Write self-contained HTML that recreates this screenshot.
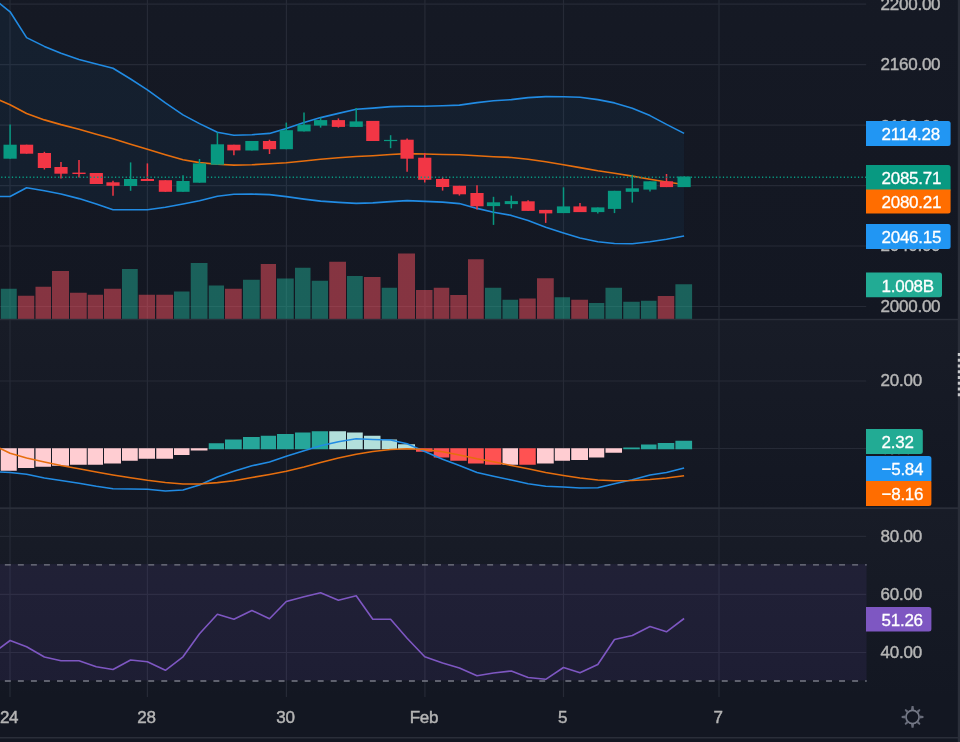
<!DOCTYPE html><html><head><meta charset="utf-8"><title>chart</title><style>
html,body{margin:0;padding:0;background:#131722;}body{width:960px;height:742px;overflow:hidden;position:relative;font-family:"Liberation Sans",sans-serif;}
svg{position:absolute;left:0;top:0;display:block}
text{filter:grayscale(1)}.t{font-family:"Liberation Sans",sans-serif;font-size:17px;letter-spacing:-0.25px;fill:#b2b5be;stroke:#b2b5be;stroke-width:0.45px}
.w{fill:#fff;stroke:#fff;stroke-width:0.3px}
</style></head><body>
<svg width="960" height="742" viewBox="0 0 960 742">
<defs><linearGradient id="g1" gradientUnits="userSpaceOnUse" x1="0" y1="-414" x2="0" y2="319"><stop offset="0" stop-color="#181c27"/><stop offset="1" stop-color="#131722"/></linearGradient><linearGradient id="g2" gradientUnits="userSpaceOnUse" x1="0" y1="320" x2="0" y2="508"><stop offset="0" stop-color="#181c27"/><stop offset="1" stop-color="#131722"/></linearGradient><linearGradient id="g3" gradientUnits="userSpaceOnUse" x1="0" y1="508" x2="0" y2="697"><stop offset="0" stop-color="#181c27"/><stop offset="1" stop-color="#131722"/></linearGradient></defs>
<rect width="960" height="742" fill="#131722"/>
<rect x="0" y="0" width="960" height="319.5" fill="url(#g1)"/>
<rect x="0" y="319.5" width="960" height="188.7" fill="url(#g2)"/>
<rect x="0" y="508.2" width="960" height="188.8" fill="url(#g3)"/>
<g stroke="#262a36" stroke-width="1.2"><line x1="0" y1="4.20" x2="866.2" y2="4.20"/><line x1="0" y1="64.60" x2="866.2" y2="64.60"/><line x1="0" y1="125.10" x2="866.2" y2="125.10"/><line x1="0" y1="185.55" x2="866.2" y2="185.55"/><line x1="0" y1="246.00" x2="866.2" y2="246.00"/><line x1="0" y1="306.50" x2="866.2" y2="306.50"/><line x1="0" y1="381.00" x2="866.2" y2="381.00"/><line x1="0" y1="448.50" x2="866.2" y2="448.50"/><line x1="0" y1="536.40" x2="866.2" y2="536.40"/><line x1="0" y1="594.30" x2="866.2" y2="594.30"/><line x1="0" y1="652.50" x2="866.2" y2="652.50"/><line x1="10.00" y1="0" x2="10.00" y2="697"/><line x1="147.40" y1="0" x2="147.40" y2="697"/><line x1="286.40" y1="0" x2="286.40" y2="697"/><line x1="424.90" y1="0" x2="424.90" y2="697"/><line x1="563.50" y1="0" x2="563.50" y2="697"/><line x1="719.00" y1="0" x2="719.00" y2="697"/></g>
<rect x="0" y="564.1" width="866.6" height="116.3" fill="#7e57c2" fill-opacity="0.105"/>
<polygon points="-7.20,-1.90 10.10,11.80 26.60,37.60 44.40,46.40 61.00,53.20 79.00,59.40 96.30,64.00 113.00,68.20 130.60,79.00 147.40,89.80 165.40,102.80 183.00,114.90 199.50,123.60 217.40,132.20 233.90,135.30 251.90,134.70 269.50,133.40 286.30,128.40 304.00,122.60 320.60,117.60 338.40,113.40 356.20,109.30 372.80,108.10 390.60,106.60 407.10,106.30 424.75,106.30 442.60,105.80 459.40,105.10 477.00,102.60 493.50,100.80 511.30,99.60 528.10,97.60 545.70,96.60 563.50,96.80 580.00,97.30 597.80,99.60 614.50,102.90 632.30,108.30 650.00,115.60 666.50,124.40 684.10,133.40 684.10,236.00 666.50,239.30 650.00,241.80 632.30,243.80 614.50,243.50 597.80,241.80 580.00,238.00 563.50,233.00 545.70,227.20 528.10,220.40 511.30,215.40 493.50,212.20 477.00,208.40 459.40,203.60 442.60,202.10 424.75,201.40 407.10,200.60 390.60,201.60 372.80,202.90 356.20,203.40 338.40,202.40 320.60,201.10 304.00,199.10 286.30,196.60 269.50,194.60 251.90,194.10 233.90,194.20 217.40,196.20 199.50,200.80 183.00,204.00 165.40,207.30 147.40,209.80 130.60,209.80 113.00,209.80 96.30,204.00 79.00,198.60 61.00,194.00 44.40,190.80 26.60,187.80 10.10,196.50 -7.20,196.50" fill="#2196f3" fill-opacity="0.06"/>
<rect x="0.75" y="288.75" width="16.00" height="30.55" fill="#22ab94" fill-opacity="0.5"/>
<rect x="18.00" y="295.75" width="16.25" height="23.55" fill="#f7525f" fill-opacity="0.5"/>
<rect x="35.50" y="286.75" width="15.50" height="32.55" fill="#f7525f" fill-opacity="0.5"/>
<rect x="52.00" y="271.00" width="17.00" height="48.30" fill="#f7525f" fill-opacity="0.5"/>
<rect x="70.00" y="292.75" width="16.75" height="26.55" fill="#f7525f" fill-opacity="0.5"/>
<rect x="87.75" y="294.75" width="15.25" height="24.55" fill="#f7525f" fill-opacity="0.5"/>
<rect x="104.00" y="288.75" width="17.00" height="30.55" fill="#f7525f" fill-opacity="0.5"/>
<rect x="122.00" y="269.00" width="15.75" height="50.30" fill="#22ab94" fill-opacity="0.5"/>
<rect x="138.75" y="294.75" width="16.25" height="24.55" fill="#f7525f" fill-opacity="0.5"/>
<rect x="156.25" y="294.75" width="16.75" height="24.55" fill="#f7525f" fill-opacity="0.5"/>
<rect x="174.00" y="291.50" width="15.50" height="27.80" fill="#22ab94" fill-opacity="0.5"/>
<rect x="190.75" y="263.00" width="16.75" height="56.30" fill="#22ab94" fill-opacity="0.5"/>
<rect x="208.75" y="285.50" width="15.25" height="33.80" fill="#22ab94" fill-opacity="0.5"/>
<rect x="225.00" y="288.75" width="16.75" height="30.55" fill="#f7525f" fill-opacity="0.5"/>
<rect x="243.00" y="279.75" width="16.75" height="39.55" fill="#22ab94" fill-opacity="0.5"/>
<rect x="260.75" y="264.00" width="15.25" height="55.30" fill="#f7525f" fill-opacity="0.5"/>
<rect x="277.00" y="278.50" width="16.75" height="40.80" fill="#22ab94" fill-opacity="0.5"/>
<rect x="295.00" y="267.75" width="15.50" height="51.55" fill="#22ab94" fill-opacity="0.5"/>
<rect x="311.75" y="280.75" width="16.25" height="38.55" fill="#22ab94" fill-opacity="0.5"/>
<rect x="329.25" y="261.75" width="16.75" height="57.55" fill="#f7525f" fill-opacity="0.5"/>
<rect x="347.00" y="276.00" width="15.75" height="43.30" fill="#22ab94" fill-opacity="0.5"/>
<rect x="364.00" y="277.00" width="16.50" height="42.30" fill="#f7525f" fill-opacity="0.5"/>
<rect x="381.75" y="287.75" width="15.25" height="31.55" fill="#22ab94" fill-opacity="0.5"/>
<rect x="398.00" y="253.50" width="17.00" height="65.80" fill="#f7525f" fill-opacity="0.5"/>
<rect x="416.00" y="290.00" width="16.50" height="29.30" fill="#f7525f" fill-opacity="0.5"/>
<rect x="433.75" y="287.75" width="15.50" height="31.55" fill="#f7525f" fill-opacity="0.5"/>
<rect x="450.25" y="295.00" width="16.50" height="24.30" fill="#f7525f" fill-opacity="0.5"/>
<rect x="468.00" y="259.25" width="15.75" height="60.05" fill="#f7525f" fill-opacity="0.5"/>
<rect x="485.00" y="287.75" width="16.25" height="31.55" fill="#22ab94" fill-opacity="0.5"/>
<rect x="502.50" y="299.75" width="15.50" height="19.55" fill="#22ab94" fill-opacity="0.5"/>
<rect x="519.25" y="298.50" width="16.50" height="20.80" fill="#f7525f" fill-opacity="0.5"/>
<rect x="537.00" y="278.25" width="16.75" height="41.05" fill="#f7525f" fill-opacity="0.5"/>
<rect x="554.75" y="297.25" width="15.25" height="22.05" fill="#22ab94" fill-opacity="0.5"/>
<rect x="571.25" y="299.75" width="16.75" height="19.55" fill="#f7525f" fill-opacity="0.5"/>
<rect x="589.00" y="303.00" width="15.25" height="16.30" fill="#22ab94" fill-opacity="0.5"/>
<rect x="605.50" y="287.75" width="16.50" height="31.55" fill="#22ab94" fill-opacity="0.5"/>
<rect x="623.25" y="301.75" width="16.50" height="17.55" fill="#22ab94" fill-opacity="0.5"/>
<rect x="641.00" y="300.75" width="15.50" height="18.55" fill="#22ab94" fill-opacity="0.5"/>
<rect x="657.75" y="296.00" width="16.50" height="23.30" fill="#f7525f" fill-opacity="0.5"/>
<rect x="675.40" y="284.25" width="16.70" height="35.05" fill="#22ab94" fill-opacity="0.5"/>
<polyline points="-7.20,-1.90 10.10,11.80 26.60,37.60 44.40,46.40 61.00,53.20 79.00,59.40 96.30,64.00 113.00,68.20 130.60,79.00 147.40,89.80 165.40,102.80 183.00,114.90 199.50,123.60 217.40,132.20 233.90,135.30 251.90,134.70 269.50,133.40 286.30,128.40 304.00,122.60 320.60,117.60 338.40,113.40 356.20,109.30 372.80,108.10 390.60,106.60 407.10,106.30 424.75,106.30 442.60,105.80 459.40,105.10 477.00,102.60 493.50,100.80 511.30,99.60 528.10,97.60 545.70,96.60 563.50,96.80 580.00,97.30 597.80,99.60 614.50,102.90 632.30,108.30 650.00,115.60 666.50,124.40 684.10,133.40" fill="none" stroke="#218be3" stroke-width="1.6" stroke-linejoin="round"/>
<polyline points="-7.20,196.50 10.10,196.50 26.60,187.80 44.40,190.80 61.00,194.00 79.00,198.60 96.30,204.00 113.00,209.80 130.60,209.80 147.40,209.80 165.40,207.30 183.00,204.00 199.50,200.80 217.40,196.20 233.90,194.20 251.90,194.10 269.50,194.60 286.30,196.60 304.00,199.10 320.60,201.10 338.40,202.40 356.20,203.40 372.80,202.90 390.60,201.60 407.10,200.60 424.75,201.40 442.60,202.10 459.40,203.60 477.00,208.40 493.50,212.20 511.30,215.40 528.10,220.40 545.70,227.20 563.50,233.00 580.00,238.00 597.80,241.80 614.50,243.50 632.30,243.80 650.00,241.80 666.50,239.30 684.10,236.00" fill="none" stroke="#218be3" stroke-width="1.6" stroke-linejoin="round"/>
<polyline points="-7.20,97.09 10.10,104.80 26.60,113.40 44.40,119.90 61.00,124.60 79.00,129.20 96.30,134.20 113.00,138.70 130.60,144.20 147.40,149.20 165.40,154.70 183.00,159.70 199.50,162.60 217.40,164.30 233.90,165.10 251.90,164.80 269.50,163.80 286.30,162.80 304.00,161.00 320.60,159.20 338.40,157.70 356.20,156.50 372.80,155.70 390.60,154.50 407.10,153.60 424.75,154.00 442.60,154.50 459.40,154.70 477.00,155.70 493.50,156.70 511.30,157.50 528.10,159.20 545.70,161.80 563.50,164.80 580.00,167.60 597.80,170.80 614.50,173.30 632.30,176.10 650.00,179.30 666.50,182.00 684.10,184.50" fill="none" stroke="#e66e0e" stroke-width="1.65" stroke-linejoin="round"/>
<line x1="10.10" y1="124.60" x2="10.10" y2="158.70" stroke="#089981" stroke-width="1.5"/>
<rect x="3.50" y="144.70" width="13.2" height="14.00" fill="#089981"/>
<line x1="26.60" y1="144.70" x2="26.60" y2="153.70" stroke="#f23645" stroke-width="1.5"/>
<rect x="20.00" y="144.70" width="13.2" height="9.00" fill="#f23645"/>
<line x1="44.40" y1="151.80" x2="44.40" y2="169.50" stroke="#f23645" stroke-width="1.5"/>
<rect x="37.80" y="153.00" width="13.2" height="15.00" fill="#f23645"/>
<line x1="61.00" y1="162.00" x2="61.00" y2="178.50" stroke="#f23645" stroke-width="1.5"/>
<rect x="54.40" y="167.00" width="13.2" height="6.70" fill="#f23645"/>
<line x1="79.00" y1="160.00" x2="79.00" y2="177.50" stroke="#f23645" stroke-width="1.5"/>
<rect x="72.40" y="172.60" width="13.2" height="1.40" fill="#f23645"/>
<line x1="96.30" y1="173.00" x2="96.30" y2="184.00" stroke="#f23645" stroke-width="1.5"/>
<rect x="89.70" y="173.00" width="13.2" height="11.00" fill="#f23645"/>
<line x1="113.00" y1="180.70" x2="113.00" y2="195.80" stroke="#f23645" stroke-width="1.5"/>
<rect x="106.40" y="182.30" width="13.2" height="3.50" fill="#f23645"/>
<line x1="130.60" y1="162.40" x2="130.60" y2="190.80" stroke="#089981" stroke-width="1.5"/>
<rect x="124.00" y="179.00" width="13.2" height="7.00" fill="#089981"/>
<line x1="147.40" y1="163.40" x2="147.40" y2="181.00" stroke="#f23645" stroke-width="1.5"/>
<rect x="140.80" y="179.00" width="13.2" height="2.00" fill="#f23645"/>
<line x1="165.40" y1="180.20" x2="165.40" y2="191.80" stroke="#f23645" stroke-width="1.5"/>
<rect x="158.80" y="180.20" width="13.2" height="11.60" fill="#f23645"/>
<line x1="183.00" y1="175.20" x2="183.00" y2="191.80" stroke="#089981" stroke-width="1.5"/>
<rect x="176.40" y="181.00" width="13.2" height="10.80" fill="#089981"/>
<line x1="199.50" y1="159.00" x2="199.50" y2="182.70" stroke="#089981" stroke-width="1.5"/>
<rect x="192.90" y="163.40" width="13.2" height="19.30" fill="#089981"/>
<line x1="217.40" y1="132.40" x2="217.40" y2="164.70" stroke="#089981" stroke-width="1.5"/>
<rect x="210.80" y="144.30" width="13.2" height="20.40" fill="#089981"/>
<line x1="233.90" y1="144.70" x2="233.90" y2="155.20" stroke="#f23645" stroke-width="1.5"/>
<rect x="227.30" y="144.70" width="13.2" height="5.70" fill="#f23645"/>
<line x1="251.90" y1="141.00" x2="251.90" y2="150.50" stroke="#089981" stroke-width="1.5"/>
<rect x="245.30" y="141.00" width="13.2" height="9.50" fill="#089981"/>
<line x1="269.50" y1="139.70" x2="269.50" y2="154.00" stroke="#f23645" stroke-width="1.5"/>
<rect x="262.90" y="141.00" width="13.2" height="8.20" fill="#f23645"/>
<line x1="286.30" y1="122.60" x2="286.30" y2="149.20" stroke="#089981" stroke-width="1.5"/>
<rect x="279.70" y="130.20" width="13.2" height="19.00" fill="#089981"/>
<line x1="304.00" y1="112.60" x2="304.00" y2="131.40" stroke="#089981" stroke-width="1.5"/>
<rect x="297.40" y="124.60" width="13.2" height="6.80" fill="#089981"/>
<line x1="320.60" y1="117.60" x2="320.60" y2="127.60" stroke="#089981" stroke-width="1.5"/>
<rect x="314.00" y="120.10" width="13.2" height="5.50" fill="#089981"/>
<line x1="338.40" y1="118.40" x2="338.40" y2="127.60" stroke="#f23645" stroke-width="1.5"/>
<rect x="331.80" y="120.10" width="13.2" height="6.80" fill="#f23645"/>
<line x1="356.20" y1="108.10" x2="356.20" y2="126.90" stroke="#089981" stroke-width="1.5"/>
<rect x="349.60" y="121.40" width="13.2" height="5.50" fill="#089981"/>
<line x1="372.80" y1="120.90" x2="372.80" y2="141.00" stroke="#f23645" stroke-width="1.5"/>
<rect x="366.20" y="120.90" width="13.2" height="20.10" fill="#f23645"/>
<line x1="390.60" y1="135.20" x2="390.60" y2="148.20" stroke="#089981" stroke-width="1.5"/>
<rect x="384.00" y="139.90" width="13.2" height="1.20" fill="#089981"/>
<line x1="407.10" y1="138.40" x2="407.10" y2="171.80" stroke="#f23645" stroke-width="1.5"/>
<rect x="400.50" y="139.70" width="13.2" height="19.00" fill="#f23645"/>
<line x1="424.75" y1="153.00" x2="424.75" y2="182.50" stroke="#f23645" stroke-width="1.5"/>
<rect x="418.15" y="157.70" width="13.2" height="22.10" fill="#f23645"/>
<line x1="442.60" y1="177.30" x2="442.60" y2="190.60" stroke="#f23645" stroke-width="1.5"/>
<rect x="436.00" y="179.00" width="13.2" height="8.00" fill="#f23645"/>
<line x1="459.40" y1="185.80" x2="459.40" y2="195.60" stroke="#f23645" stroke-width="1.5"/>
<rect x="452.80" y="185.80" width="13.2" height="8.50" fill="#f23645"/>
<line x1="477.00" y1="185.30" x2="477.00" y2="209.40" stroke="#f23645" stroke-width="1.5"/>
<rect x="470.40" y="193.00" width="13.2" height="13.30" fill="#f23645"/>
<line x1="493.50" y1="196.80" x2="493.50" y2="224.90" stroke="#089981" stroke-width="1.5"/>
<rect x="486.90" y="202.30" width="13.2" height="3.80" fill="#089981"/>
<line x1="511.30" y1="195.60" x2="511.30" y2="208.40" stroke="#089981" stroke-width="1.5"/>
<rect x="504.70" y="201.10" width="13.2" height="3.00" fill="#089981"/>
<line x1="528.10" y1="200.30" x2="528.10" y2="210.90" stroke="#f23645" stroke-width="1.5"/>
<rect x="521.50" y="201.30" width="13.2" height="9.60" fill="#f23645"/>
<line x1="545.70" y1="209.90" x2="545.70" y2="222.90" stroke="#f23645" stroke-width="1.5"/>
<rect x="539.10" y="209.90" width="13.2" height="3.50" fill="#f23645"/>
<line x1="563.50" y1="187.30" x2="563.50" y2="213.10" stroke="#089981" stroke-width="1.5"/>
<rect x="556.90" y="206.40" width="13.2" height="6.70" fill="#089981"/>
<line x1="580.00" y1="202.90" x2="580.00" y2="212.10" stroke="#f23645" stroke-width="1.5"/>
<rect x="573.40" y="206.40" width="13.2" height="5.70" fill="#f23645"/>
<line x1="597.80" y1="207.40" x2="597.80" y2="213.40" stroke="#089981" stroke-width="1.5"/>
<rect x="591.20" y="207.40" width="13.2" height="4.70" fill="#089981"/>
<line x1="614.50" y1="190.80" x2="614.50" y2="213.10" stroke="#089981" stroke-width="1.5"/>
<rect x="607.90" y="190.80" width="13.2" height="18.10" fill="#089981"/>
<line x1="632.30" y1="174.80" x2="632.30" y2="202.60" stroke="#089981" stroke-width="1.5"/>
<rect x="625.70" y="188.30" width="13.2" height="3.50" fill="#089981"/>
<line x1="650.00" y1="181.30" x2="650.00" y2="191.60" stroke="#089981" stroke-width="1.5"/>
<rect x="643.40" y="181.30" width="13.2" height="8.30" fill="#089981"/>
<line x1="666.50" y1="174.00" x2="666.50" y2="187.10" stroke="#f23645" stroke-width="1.5"/>
<rect x="659.90" y="181.30" width="13.2" height="5.80" fill="#f23645"/>
<line x1="684.10" y1="176.50" x2="684.10" y2="187.10" stroke="#089981" stroke-width="1.5"/>
<rect x="677.50" y="176.50" width="13.2" height="10.60" fill="#089981"/>
<line x1="-2.37" y1="177.2" x2="866" y2="177.2" stroke="#089981" stroke-width="1.4" stroke-dasharray="1.25 2.305"/>
<rect x="0" y="318.8" width="958" height="1.4" fill="#2a2e39"/>
<rect x="0" y="507.3" width="958" height="1.8" fill="#2a2e39"/>
<rect x="0.75" y="448.25" width="16.00" height="22.50" fill="#ffcdd2"/>
<rect x="18.00" y="448.25" width="16.25" height="19.75" fill="#ffcdd2"/>
<rect x="35.50" y="448.25" width="15.50" height="18.50" fill="#ffcdd2"/>
<rect x="52.00" y="448.25" width="17.00" height="17.50" fill="#ffcdd2"/>
<rect x="70.00" y="448.25" width="16.75" height="16.50" fill="#ffcdd2"/>
<rect x="87.75" y="448.25" width="15.25" height="16.50" fill="#ffcdd2"/>
<rect x="104.00" y="448.25" width="17.00" height="15.25" fill="#ffcdd2"/>
<rect x="122.00" y="448.25" width="15.75" height="12.50" fill="#ffcdd2"/>
<rect x="138.75" y="448.25" width="16.25" height="10.50" fill="#ffcdd2"/>
<rect x="156.25" y="448.25" width="16.75" height="10.50" fill="#ffcdd2"/>
<rect x="174.00" y="448.25" width="15.50" height="6.75" fill="#ffcdd2"/>
<rect x="190.75" y="448.25" width="16.75" height="2.25" fill="#ffcdd2"/>
<rect x="208.75" y="443.25" width="15.25" height="6.00" fill="#26a69a"/>
<rect x="225.00" y="439.50" width="16.75" height="9.75" fill="#26a69a"/>
<rect x="243.00" y="437.00" width="16.75" height="12.25" fill="#26a69a"/>
<rect x="260.75" y="435.75" width="15.25" height="13.50" fill="#26a69a"/>
<rect x="277.00" y="434.00" width="16.75" height="15.25" fill="#26a69a"/>
<rect x="295.00" y="432.50" width="15.50" height="16.75" fill="#26a69a"/>
<rect x="311.75" y="431.25" width="16.25" height="18.00" fill="#26a69a"/>
<rect x="329.25" y="431.25" width="16.75" height="18.00" fill="#b2dfdb"/>
<rect x="347.00" y="432.50" width="15.75" height="16.75" fill="#b2dfdb"/>
<rect x="364.00" y="435.75" width="16.50" height="13.50" fill="#b2dfdb"/>
<rect x="381.75" y="439.50" width="15.25" height="9.75" fill="#b2dfdb"/>
<rect x="398.00" y="444.25" width="17.00" height="5.00" fill="#b2dfdb"/>
<rect x="416.00" y="448.25" width="16.50" height="3.50" fill="#ff5252"/>
<rect x="433.75" y="448.25" width="15.50" height="9.25" fill="#ff5252"/>
<rect x="450.25" y="448.25" width="16.50" height="12.50" fill="#ff5252"/>
<rect x="468.00" y="448.25" width="15.75" height="15.25" fill="#ff5252"/>
<rect x="485.00" y="448.25" width="16.25" height="16.50" fill="#ff5252"/>
<rect x="502.50" y="448.25" width="15.50" height="16.50" fill="#ffcdd2"/>
<rect x="519.25" y="448.25" width="16.50" height="16.50" fill="#ff5252"/>
<rect x="537.00" y="448.25" width="16.75" height="15.25" fill="#ffcdd2"/>
<rect x="554.75" y="448.25" width="15.25" height="12.50" fill="#ffcdd2"/>
<rect x="571.25" y="448.25" width="16.75" height="11.75" fill="#ffcdd2"/>
<rect x="589.00" y="448.25" width="15.25" height="9.25" fill="#ffcdd2"/>
<rect x="605.50" y="448.25" width="16.50" height="4.50" fill="#ffcdd2"/>
<rect x="623.25" y="447.50" width="16.50" height="1.75" fill="#26a69a"/>
<rect x="641.00" y="444.50" width="15.50" height="4.75" fill="#26a69a"/>
<rect x="657.75" y="443.00" width="16.50" height="6.25" fill="#26a69a"/>
<rect x="675.40" y="440.75" width="16.70" height="8.50" fill="#26a69a"/>
<polyline points="-7.20,471.64 10.10,472.50 26.60,474.30 44.40,478.00 61.00,480.50 79.00,483.30 96.30,486.30 113.00,488.80 130.60,489.00 147.40,489.30 165.40,491.00 183.00,490.00 199.50,485.00 217.40,477.00 233.90,471.30 251.90,465.80 269.50,462.00 286.30,456.30 304.00,450.80 320.60,445.80 338.40,441.80 356.20,438.80 372.80,439.50 390.60,440.00 407.10,443.80 424.75,451.50 442.60,459.30 459.40,465.50 477.00,472.50 493.50,476.30 511.30,480.00 528.10,483.80 545.70,486.30 563.50,487.00 580.00,488.00 597.80,487.80 614.50,483.80 632.30,479.80 650.00,475.00 666.50,472.50 684.10,468.00" fill="none" stroke="#218be3" stroke-width="1.6" stroke-linejoin="round"/>
<polyline points="-7.20,444.74 10.10,453.30 26.60,458.00 44.40,462.00 61.00,465.50 79.00,468.80 96.30,472.00 113.00,475.00 130.60,477.80 147.40,480.30 165.40,482.50 183.00,484.00 199.50,484.00 217.40,482.60 233.90,480.70 251.90,477.50 269.50,474.50 286.30,471.30 304.00,467.00 320.60,462.50 338.40,458.00 356.20,454.30 372.80,451.50 390.60,449.50 407.10,448.80 424.75,449.50 442.60,451.80 459.40,455.00 477.00,458.80 493.50,461.80 511.30,465.50 528.10,468.80 545.70,472.50 563.50,475.50 580.00,478.00 597.80,480.00 614.50,480.80 632.30,480.50 650.00,479.50 666.50,478.00 684.10,475.80" fill="none" stroke="#e66e0e" stroke-width="1.65" stroke-linejoin="round"/>
<line x1="4.85" y1="564.8" x2="866.7" y2="564.8" stroke="#787b86" stroke-width="1.3" stroke-dasharray="5.95 7.085"/>
<line x1="4.85" y1="681.0" x2="866.7" y2="681.0" stroke="#787b86" stroke-width="1.3" stroke-dasharray="5.95 7.085"/>
<polyline points="-7.20,653.35 10.10,640.50 26.60,646.80 44.40,657.00 61.00,660.80 79.00,660.80 96.30,666.80 113.00,669.50 130.60,660.00 147.40,661.80 165.40,670.30 183.00,656.80 199.50,633.80 217.40,614.30 233.90,619.30 251.90,610.50 269.50,618.80 286.30,601.50 304.00,596.80 320.60,592.80 338.40,600.30 356.20,595.80 372.80,619.30 390.60,619.30 407.10,638.30 424.75,656.80 442.60,663.00 459.40,668.00 477.00,675.80 493.50,673.00 511.30,671.00 528.10,677.50 545.70,679.30 563.50,667.50 580.00,672.80 597.80,664.50 614.50,639.50 632.30,635.50 650.00,626.50 666.50,631.80 684.10,618.50" fill="none" stroke="#7e57c2" stroke-width="1.6" stroke-linejoin="round"/>
<text x="880.6" y="10.4" class="t">2200.00</text>
<text x="880.6" y="69.8" class="t">2160.00</text>
<text x="880.6" y="132.1" class="t">2120.00</text>
<text x="880.6" y="190.8" class="t">2080.00</text>
<text x="880.6" y="251.2" class="t">2040.00</text>
<text x="880.6" y="311.7" class="t">2000.00</text>
<text x="880.6" y="386.2" class="t">20.00</text>
<text x="880.6" y="453.7" class="t">0.00</text>
<text x="880.6" y="541.6" class="t">80.00</text>
<text x="880.6" y="599.5" class="t">60.00</text>
<text x="880.6" y="657.7" class="t">40.00</text>
<path d="M866 121.00 H948.10 a2.5 2.5 0 0 1 2.5 2.5 V143.40 a2.5 2.5 0 0 1 -2.5 2.5 H866 Z" fill="#2196f3"/><text x="881.5" y="140.2" class="t w">2114.28</text>
<path d="M866 165.00 H948.10 a2.5 2.5 0 0 1 2.5 2.5 V190.40 H866 Z" fill="#089981"/><text x="881.5" y="184.1" class="t w">2085.71</text>
<path d="M866 189.60 H950.60 V211.00 a2.5 2.5 0 0 1 -2.5 2.5 H866 Z" fill="#ff6d00"/><text x="881.5" y="208.4" class="t w">2080.21</text>
<path d="M866 224.10 H948.10 a2.5 2.5 0 0 1 2.5 2.5 V246.40 a2.5 2.5 0 0 1 -2.5 2.5 H866 Z" fill="#2196f3"/><text x="881.5" y="243.3" class="t w">2046.15</text>
<path d="M866 272.50 H939.50 a2.5 2.5 0 0 1 2.5 2.5 V294.70 a2.5 2.5 0 0 1 -2.5 2.5 H866 Z" fill="#22ab94"/><text x="881.5" y="291.7" class="t w">1.008B</text>
<path d="M866 429.00 H920.30 a2.5 2.5 0 0 1 2.5 2.5 V451.50 a2.5 2.5 0 0 1 -2.5 2.5 H866 Z" fill="#22ab94"/><text x="881.5" y="448.3" class="t w">2.32</text>
<path d="M866 456.10 H928.90 a2.5 2.5 0 0 1 2.5 2.5 V480.70 a1.0 1.0 0 0 1 -1.0 1.0 H866 Z" fill="#2196f3"/><text x="881.5" y="475.3" class="t w">−5.84</text>
<path d="M866 480.90 H930.40 a1.0 1.0 0 0 1 1.0 1.0 V503.40 a2.5 2.5 0 0 1 -2.5 2.5 H866 Z" fill="#ff6d00"/><text x="881.5" y="500.2" class="t w">−8.16</text>
<path d="M866 607.00 H928.90 a2.5 2.5 0 0 1 2.5 2.5 V628.90 a2.5 2.5 0 0 1 -2.5 2.5 H866 Z" fill="#7e57c2"/><text x="881.5" y="626.0" class="t w">51.26</text>
<text x="9.1" y="722.6" class="t" text-anchor="middle">24</text>
<text x="146.5" y="722.6" class="t" text-anchor="middle">28</text>
<text x="285.5" y="722.6" class="t" text-anchor="middle">30</text>
<text x="424.0" y="722.6" class="t" text-anchor="middle">Feb</text>
<text x="562.6" y="722.6" class="t" text-anchor="middle">5</text>
<text x="718.1" y="722.6" class="t" text-anchor="middle">7</text>
<rect x="0" y="737" width="958" height="1.5" fill="#2a2e39"/>
<rect x="957.8" y="0" width="2.2" height="742" fill="#2a2e39"/>
<rect x="957.8" y="353.00" width="2.2" height="3" fill="#c9cacd"/>
<rect x="957.8" y="358.75" width="2.2" height="3" fill="#c9cacd"/>
<rect x="957.8" y="364.50" width="2.2" height="3" fill="#c9cacd"/>
<rect x="957.8" y="370.25" width="2.2" height="3" fill="#c9cacd"/>
<rect x="957.8" y="376.00" width="2.2" height="3" fill="#c9cacd"/>
<rect x="957.8" y="381.75" width="2.2" height="3" fill="#c9cacd"/>
<rect x="957.8" y="387.50" width="2.2" height="3" fill="#c9cacd"/>
<rect x="957.8" y="393.25" width="2.2" height="3" fill="#c9cacd"/>
<g fill="#686c7a"><circle cx="912.55" cy="716.95" r="6.55" stroke-width="1.7" stroke="#747886" fill="none"/>
<polygon points="919.55,718.50 923.45,717.95 923.45,715.95 919.55,715.40"/>
<polygon points="916.58,722.82 919.44,724.90 920.50,723.84 918.42,720.98"/>
<polygon points="911.00,723.95 911.55,727.85 913.55,727.85 914.10,723.95"/>
<polygon points="906.68,720.98 904.60,723.84 905.66,724.90 908.52,722.82"/>
<polygon points="905.55,715.40 901.65,715.95 901.65,717.95 905.55,718.50"/>
<polygon points="908.52,711.08 905.66,709.00 904.60,710.06 906.68,712.92"/>
<polygon points="914.10,709.95 913.55,706.05 911.55,706.05 911.00,709.95"/>
<polygon points="918.42,712.92 920.50,710.06 919.44,709.00 916.58,711.08"/>
</g>
</svg></body></html>
